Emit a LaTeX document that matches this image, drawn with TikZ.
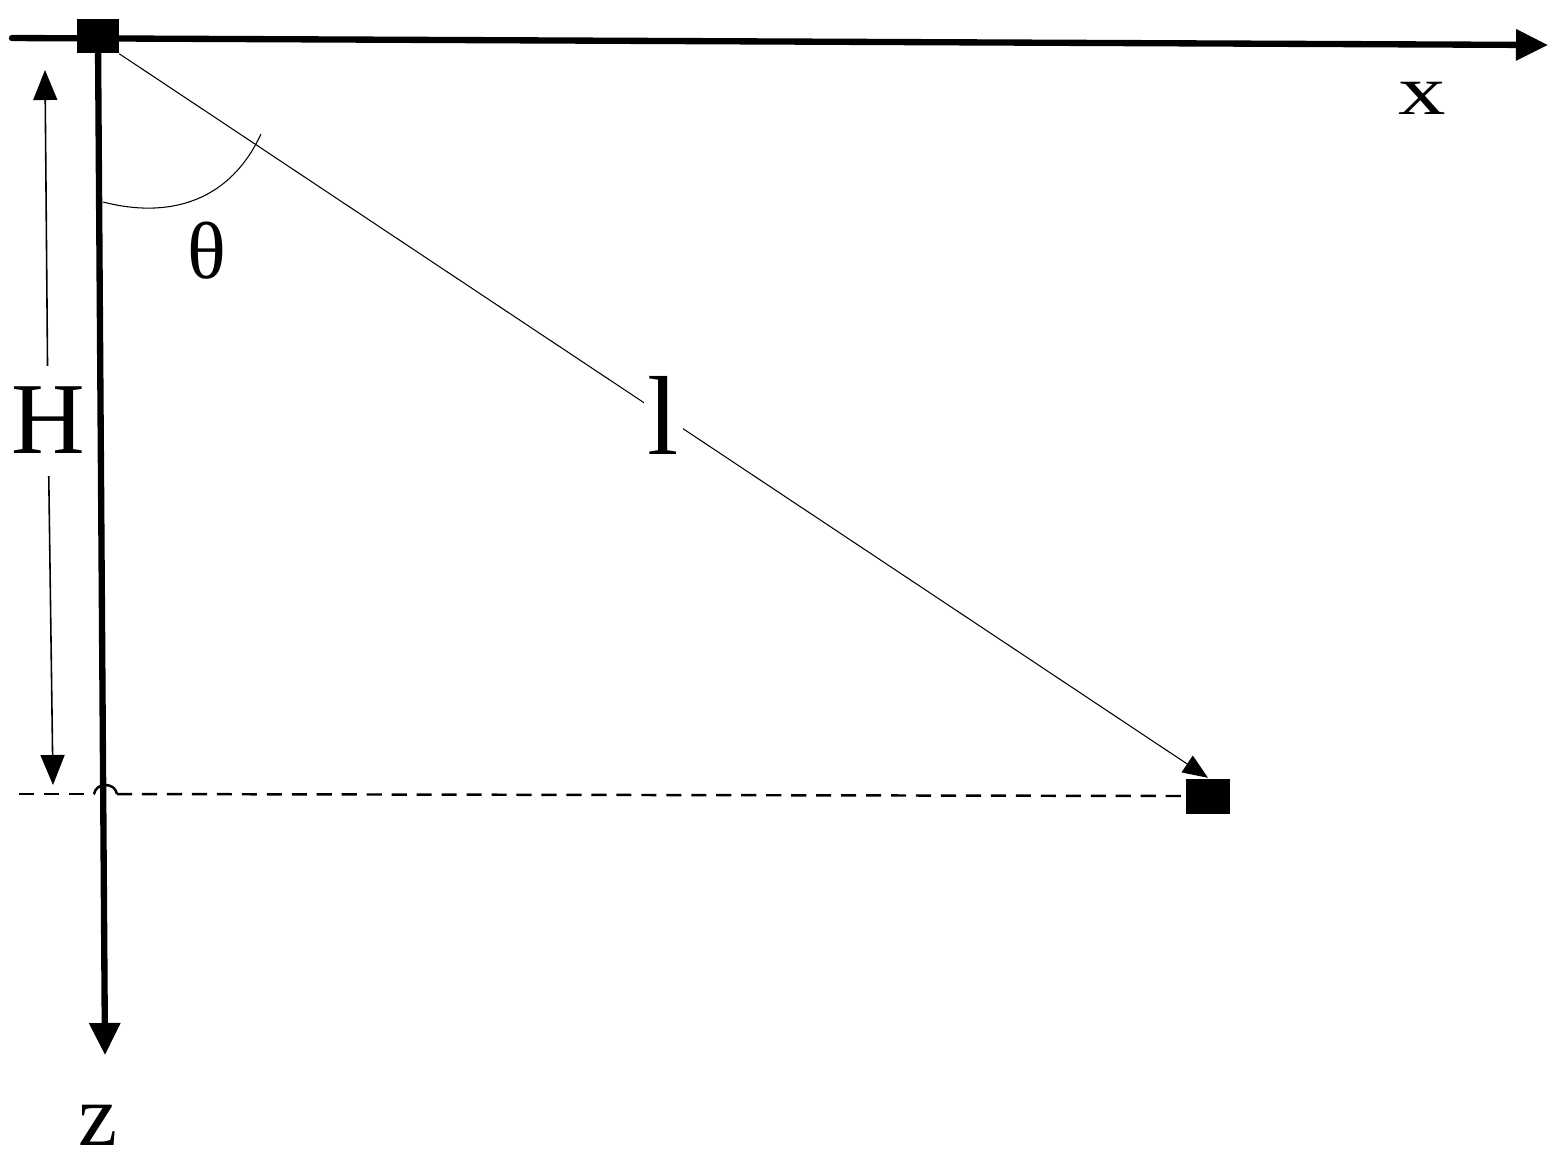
\documentclass[tikz,border=0pt]{standalone}
\usepackage{fontspec}
\setmainfont{Liberation Serif}
\usepackage{tikz}
\usetikzlibrary{arrows.meta}

\begin{document}
\begin{tikzpicture}[x=0.01cm, y=-0.01cm,
        axis/.style = {line width=1.8pt,
            -{Triangle[length=0.32cm,width=0.3cm]}},
        box/.style = {fill=black,
            inner sep=0pt,
            minimum width=0.41cm,
            minimum height=0.34cm},
        dim/.style = {line width=0.45pt,
            -{Triangle[length=0.3cm,width=0.24cm]}},
        level/.style = {line width=0.7pt,
            dash pattern=on 4.3pt off 2.8pt},
        lbl/.style = {inner sep=0pt}]

    \useasboundingbox (0,0) rectangle (1559,1159);

    % Axes
    \coordinate (xstart) at (12,38);
    \coordinate (xend) at (1548,45);
    \coordinate (zstart) at (98,40);
    \coordinate (zend) at (105,1055);
    \draw[axis, line cap=round] (xstart) -- (xend);
    \draw[axis] (zstart) -- (zend);

    % Source and receiver
    \node[box] (src) at (98,36) {};
    \node[box,
        minimum width=0.43cm,
        minimum height=0.35cm] (rcv) at (1208,796) {};

    % Ray from source to receiver
    \draw[line width=0.3pt,
        -{Triangle[length=0.25cm,width=0.2cm]}] (src.south east) -- (rcv.north)
        node[pos=0.5, fill=white, inner sep=1pt,
            font=\fontsize{32}{36}\selectfont] (raylbl) {l};

    % Depth level, with a hop over the z axis
    \coordinate (lvl) at (19,794);
    \coordinate (hopL) at (94,794);
    \coordinate (hopR) at (117,794);
    \draw[level] (lvl) -- (hopL);
    \draw[line width=0.7pt] (hopL) .. controls (96,782) and (115,782) .. (hopR);
    \draw[level] (hopR) -- (rcv.west);

    % Height marker
    \node[lbl, font=\fontsize{29}{33}\selectfont] (hlbl) at (48,420) {H};
    \coordinate (htop) at (45,70);
    \coordinate (hbot) at (53,785);
    \draw[dim, shorten <=0.2cm] (hlbl) -- (htop);
    \draw[dim, shorten <=0.22cm] (hlbl) -- (hbot);

    % Angle
    \coordinate (arcA) at (103,202);
    \coordinate (arcB) at (261,134);
    \draw[line width=0.3pt] (arcA) .. controls (165,218) and (228,205) .. (arcB);
    \node[lbl, font=\fontsize{23}{26}\selectfont] (theta) at (207,251) {θ};

    % Axis labels
    \node[lbl, font=\fontsize{20}{24}\selectfont, xscale=1.35] (xlbl) at (1422,98) {x};
    \node[lbl, font=\fontsize{25}{28}\selectfont] (zlbl) at (98,1125) {z};

\end{tikzpicture}
\end{document}
